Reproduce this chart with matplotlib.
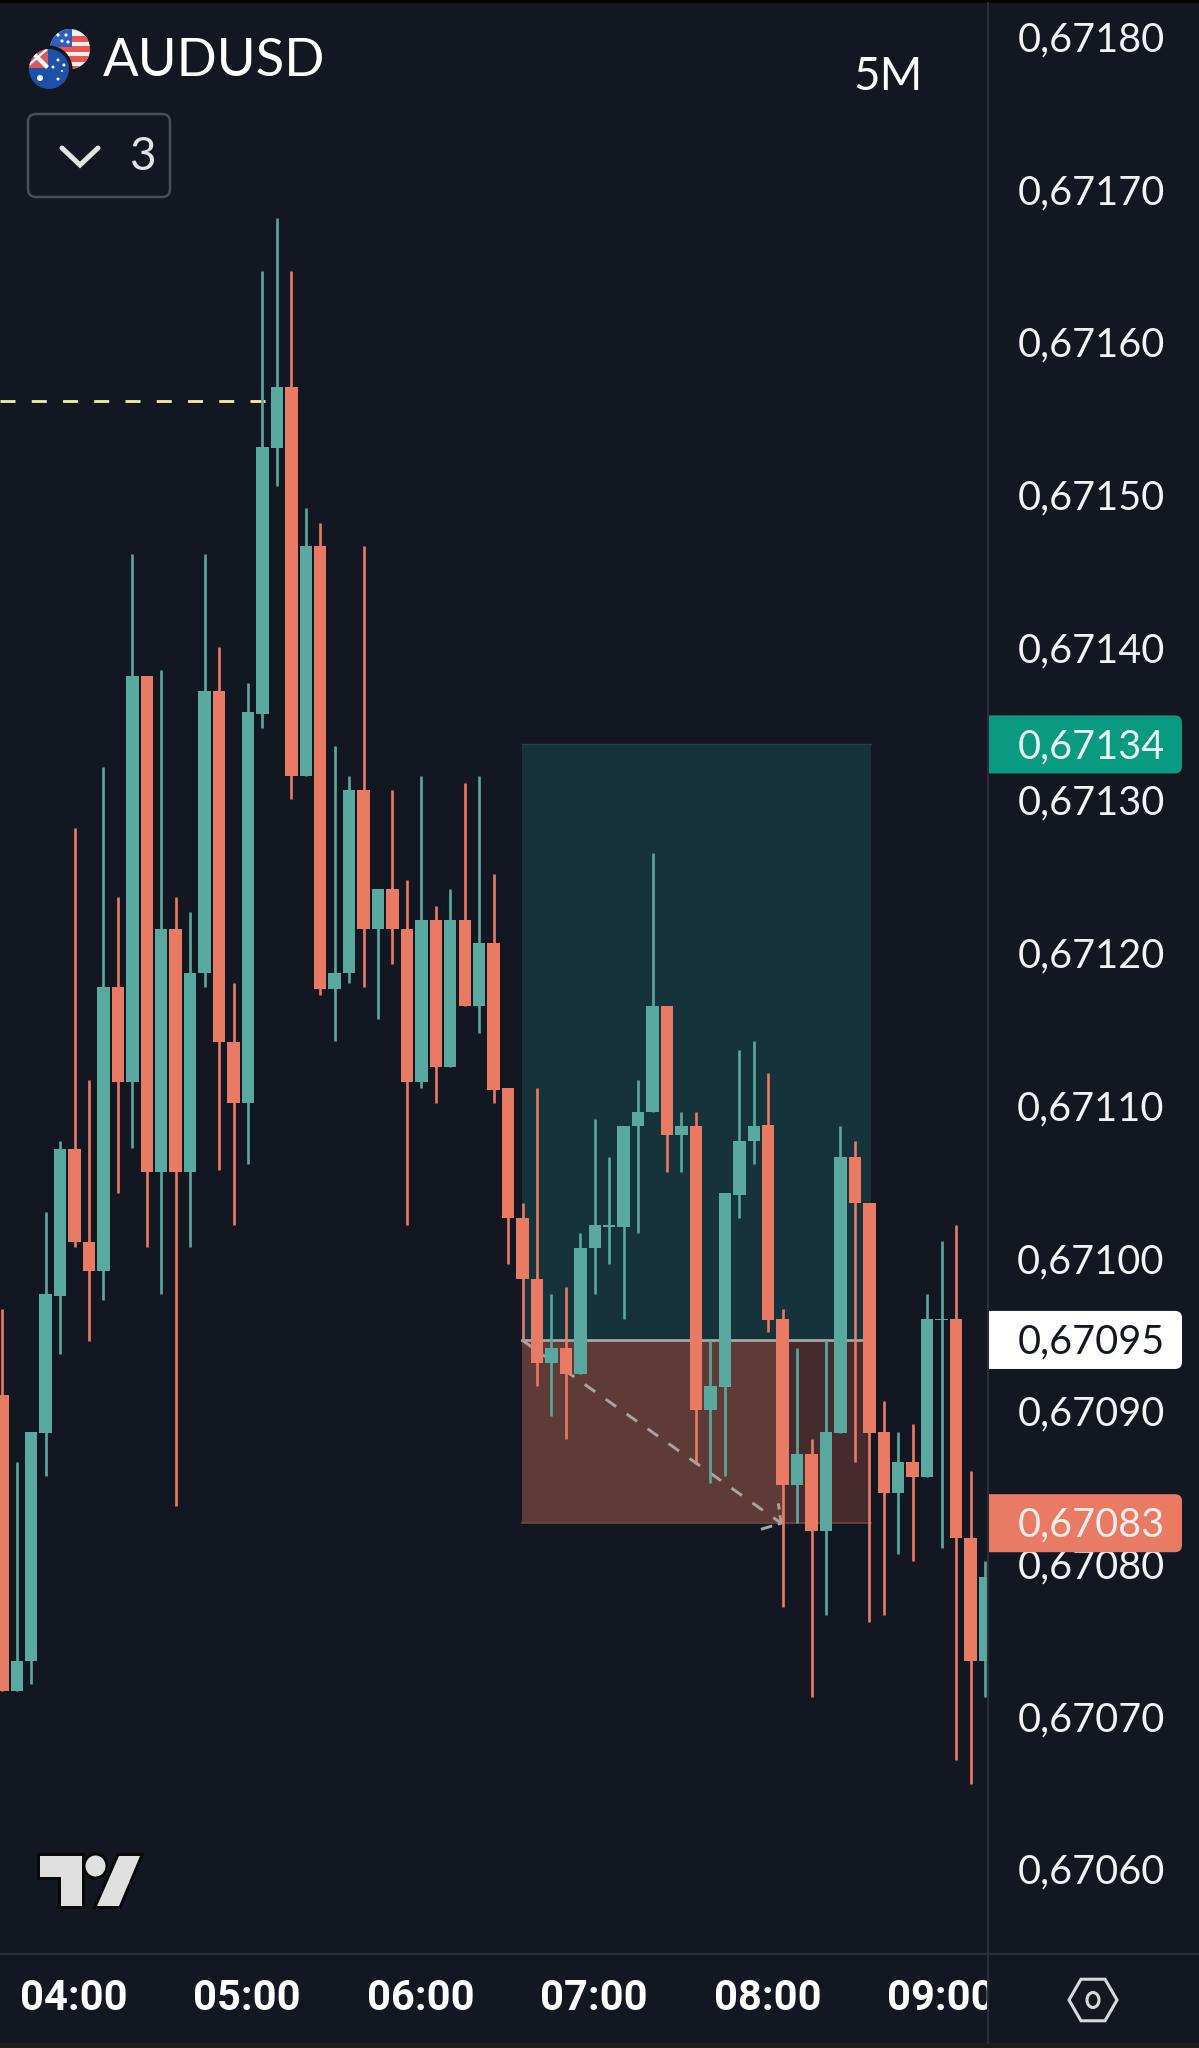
import numpy as np
import matplotlib
matplotlib.use("Agg")
import matplotlib.pyplot as plt
from matplotlib.patches import Circle, Ellipse, FancyBboxPatch, Polygon, Rectangle, RegularPolygon

# prices are in points above 0.67000 (1 point = 0.00001)
opens = [91.4, 72, 74, 88.9, 97.9, 107.5, 101.4, 99.5, 118.1, 111.9, 138.5, 106, 121.9, 106, 119,
         137.5, 114.5, 110.5, 136, 153.4, 157.4, 131.9, 147, 118, 119, 131, 121.9, 124.5, 121.9,
         111.9, 122.5, 112.9, 122.5, 116.9, 121, 111.5, 103, 99, 93.5, 94.5, 92.8, 101, 102.4,
         102.4, 109, 109.9, 116.9, 108.4, 109, 90.4, 91.9, 104.5, 108, 109.1, 96.4, 85.5, 87.5,
         82.5, 88.9, 107, 104, 89, 85, 87, 86, 96.3, 96.4, 82, 74]
closes = [72, 74, 89, 98, 107.5, 101.4, 99.5, 118.1, 111.9, 138.5, 106, 121.9, 106, 119, 137.5,
          114.5, 110.5, 136.1, 153.5, 157.4, 131.9, 147, 118, 119, 131, 121.9, 124.5, 121.9, 111.9,
          122.5, 112.9, 122.5, 116.9, 121, 111.4, 103, 99, 93.5, 94.5, 92.8, 101, 102.5, 102.5,
          109, 109.9, 116.9, 108.4, 109, 90.4, 92, 104.6, 108, 109, 96.3, 85.5, 87.5, 82.5, 89,
          107, 104, 88.9, 85, 87, 86, 96.4, 96.4, 82, 74, 79.5]
highs = [97, 87, 89, 103.4, 108, 128.5, 112, 132.5, 124, 146.5, 138.5, 138.9, 124, 123, 146.5,
         140.4, 118.4, 138, 165, 168.5, 165, 149.5, 148.5, 133.9, 131.9, 147, 124.5, 131, 125.1,
         131.9, 123.4, 124.5, 131.5, 131.9, 125.5, 111.5, 104, 111.5, 98, 98.5, 102, 109.5, 107,
         109, 112, 126.9, 116.9, 109.9, 109.9, 95, 104.6, 114, 114.6, 112.5, 97, 94.5, 88.5, 95,
         109, 108, 104, 91, 89, 89.5, 98, 101.5, 102.5, 86.4, 80.5]
lows = [72, 72, 72.5, 86.1, 94.1, 101.1, 94.9, 97.6, 104.6, 107.6, 101.1, 98, 84.1, 101.1, 118.1,
        106.1, 102.5, 106.5, 135.1, 150.9, 130.4, 131.9, 117.6, 114.6, 118.4, 118.1, 116, 119.6,
        102.5, 111.5, 110.5, 112.9, 116.9, 115.1, 110.5, 100, 95, 92, 90, 88.5, 92.8, 98, 100,
        96.4, 102, 109.9, 106, 106, 87, 85.6, 86.1, 103, 106.5, 95.5, 77.5, 83, 71.6, 77, 88.9,
        87, 76.5, 77, 81, 80.5, 86, 81.4, 67.5, 65.9, 71.6]

price_ticks = [60, 70, 80, 90, 100, 110, 120, 130, 140, 150, 160, 170, 180]
hour_labels = ["04:00", "05:00", "06:00", "07:00", "08:00", "09:00"]
hour_candles = [5, 17, 29, 41, 53, 65]

entry, target, stop = 95, 134, 83
box_start, box_hit, box_end = 35.95, 54, 60.12
yellow_level = 156.5
yellow_end = 18.2

BG = "#131722"
TEAL = "#5AA9A0"
RED = "#E97B65"
LINE = "#2A2E39"
TXT = "#F2F3F5"
W, H = 1199, 2048
AXIS_X = 989
AXIS_Y = 1953.5

plt.rcParams["font.family"] = ["Lato", "DejaVu Sans"]

fig = plt.figure(figsize=(W / 100, H / 100), dpi=100, facecolor=BG)


def pos(x0, y0, x1, y1):
    # pixel box (top left origin) to figure fraction
    return [x0 / W, 1 - y1 / H, (x1 - x0) / W, (y1 - y0) / H]


xlim = (-0.159, 68.28)
ylim = (54.82, 182.75)

# candles
ax = fig.add_axes(pos(0, 0, AXIS_X, AXIS_Y), facecolor=BG)
ax.set_xlim(xlim)
ax.set_ylim(ylim)
ax.axis("off")

# long / short position tool
ax.fill_between([box_start, box_end], entry, target, color="#16323A", lw=0, zorder=1)
ax.fill_between([box_start, box_end], stop, entry, color="#452A2E", lw=0, zorder=1)
ax.fill_between([box_start, box_hit], stop, entry, color="#5F3B37", lw=0, zorder=1.1)
ax.plot([box_start, box_end], [target, target], color="#1F4444", lw=1, zorder=1.2)
ax.plot([box_start, box_end], [stop, stop], color="#6E4740", lw=1.2, zorder=1.2)
ax.plot([box_start, box_end], [entry, entry], color="#A5A5A5", lw=2, zorder=1.3)
ax.plot([box_start, box_hit - 0.1], [entry, stop], color="#A8A3A3", lw=2.1,
        dashes=(4.4, 4.4), zorder=1.4)
ax.plot([box_hit - 1.5, box_hit - 0.1, box_hit - 0.3], [stop - 0.4, stop, stop + 1.3],
        color="#A8A3A3", lw=2.1, dashes=(4, 2), zorder=1.4)

ax.plot([xlim[0], yellow_end], [yellow_level, yellow_level], color="#F5EFA6", lw=2,
        dashes=(5.4, 5.85), zorder=1.5)

idx = np.arange(len(opens))
o = np.array(opens)
c = np.array(closes)
colors = [TEAL if b > a else RED for a, b in zip(opens, closes)]
ax.vlines(idx, lows, highs, colors=colors, lw=1.9, zorder=2)
ax.bar(idx, c - o, bottom=o, width=0.86, color=colors, lw=0, zorder=3)

# price scale
ax_p = fig.add_axes(pos(AXIS_X, 0, W, AXIS_Y), facecolor=BG)
ax_p.set_xlim(AXIS_X, W)
ax_p.set_ylim(ylim)
ax_p.axis("off")
for p in price_ticks:
    ax_p.annotate(f"0,67{p:03d}", (1091, p), xytext=(0, 1.5), textcoords="offset points",
                  ha="center", va="center", fontsize=28.5, color=TXT, zorder=2)

tags = [(target, "#0A9A82", "#EAF6F3"), (entry, "#FFFFFF", "#131722"), (stop, RED, "#FBEDE9")]
for level, face, ink in tags:
    ax_p.add_patch(FancyBboxPatch((970, level - 1.9), 212, 3.8, boxstyle="round,pad=0,rounding_size=7",
                                  mutation_aspect=1 / 15.27, fc=face, ec="none", zorder=3))
    ax_p.annotate(f"0,67{level:03d}", (1091, level), xytext=(0, -1.5), textcoords="offset points",
                  ha="center", va="center", fontsize=28.5, color=ink, zorder=4)

# time scale
ax_t = fig.add_axes(pos(0, AXIS_Y, AXIS_X, 2043), facecolor=BG)
ax_t.set_xlim(xlim)
ax_t.set_ylim(0, 1)
ax_t.axis("off")
for i, lab in zip(hour_candles, hour_labels):
    ax_t.text(i - 0.05, 0.5, lab, ha="center", va="center", fontsize=30, fontweight="bold",
              family="Roboto", color="white", clip_on=True)

# everything else sits on a pixel overlay
ui = fig.add_axes([0, 0, 1, 1], facecolor="none")
ui.set_xlim(0, W)
ui.set_ylim(H, 0)
ui.axis("off")

ui.add_patch(Rectangle((0, 0), W, 3, fc="#050505", ec="none"))
ui.add_patch(Rectangle((0, 2043), W, 5, fc="#1C1C1E", ec="none"))
ui.plot([988, 988], [3, 2043], color=LINE, lw=1.5)
ui.plot([0, W], [AXIS_Y, AXIS_Y], color=LINE, lw=1.5)

ui.text(103, 61, "AUDUSD", fontsize=38, color="white", va="center", ha="left")
ui.text(888, 77, "5M", fontsize=33, color="white", va="center", ha="center")

# collapse button
ui.add_patch(FancyBboxPatch((28, 114), 142, 83, boxstyle="round,pad=0,rounding_size=8",
                            fc="none", ec="#4A4D55", lw=1.8))
ui.plot([62, 80, 98], [148, 165, 148], color="#E2E3E5", lw=3.6, solid_capstyle="round",
        solid_joinstyle="miter")
ui.text(142, 157, "3", fontsize=33, color="#E2E3E5", ha="center", va="center")

# US flag
us = Circle((70, 49), 20, transform=ui.transData)
ui.add_patch(Rectangle((48, 27), 44, 44, fc="#F0F0F0", ec="none", clip_path=us))
for sy in [36, 46, 56, 66]:
    ui.add_patch(Rectangle((48, sy), 44, 5.5, fc="#E8544F", ec="none", clip_path=us))
ui.add_patch(Rectangle((48, 27), 24, 20, fc="#2E5FC0", ec="none", clip_path=us))
for dx, dy in [(58, 35), (66, 35), (62, 41), (68, 42)]:
    ui.add_patch(Circle((dx, dy), 1.6, fc="white", ec="none"))
# AU flag
ui.add_patch(Circle((49, 69), 23.5, fc=BG, ec="none"))
au = Circle((49, 69), 20, transform=ui.transData)
ui.add_patch(Rectangle((28, 48), 44, 44, fc="#1D50A8", ec="none", clip_path=au))
ui.add_patch(Rectangle((28, 48), 20, 20, fc="#D85A5A", ec="none", clip_path=au))
ui.plot([30, 46], [50, 66], color="white", lw=3, clip_path=au)
ui.plot([30, 46], [64, 50], color="white", lw=1.6, clip_path=au)
for dx, dy, r in [(40, 78, 3), (58, 60, 1.5), (64, 65, 1.5), (53, 67, 1.5), (58, 79, 1.5), (62, 71, 1)]:
    ui.add_patch(Circle((dx, dy), r, fc="white", ec="none"))

# logo, black edge first then the flat shapes over it
logo_ink = "#E0E0E0"
logo_shapes = [
    [(40, 1856), (82, 1856), (82, 1906), (61, 1906), (61, 1877), (40, 1877)],
    [(119, 1856), (140, 1856), (119, 1906), (97, 1906)],
]
for pts in logo_shapes:
    ui.add_patch(Polygon(pts, fc="#0A0A0A", ec="#0A0A0A", lw=4.5, joinstyle="miter"))
ui.add_patch(Ellipse((95.5, 1866), 25, 28, fc="#0A0A0A", ec="none"))
for pts in logo_shapes:
    ui.add_patch(Polygon(pts, fc=logo_ink, ec="none"))
ui.add_patch(Ellipse((95.5, 1866), 20, 21, fc=logo_ink, ec="none"))

# settings icon
ui.add_patch(RegularPolygon((1093, 2000), 6, radius=24, orientation=np.pi / 6, fc="none",
                            ec="#D8D9DB", lw=2.2))
ui.add_patch(Ellipse((1093, 2000), 12, 15, fc="none", ec="#D8D9DB", lw=2.2))

fig.savefig("out.png", dpi=100, facecolor=BG)
